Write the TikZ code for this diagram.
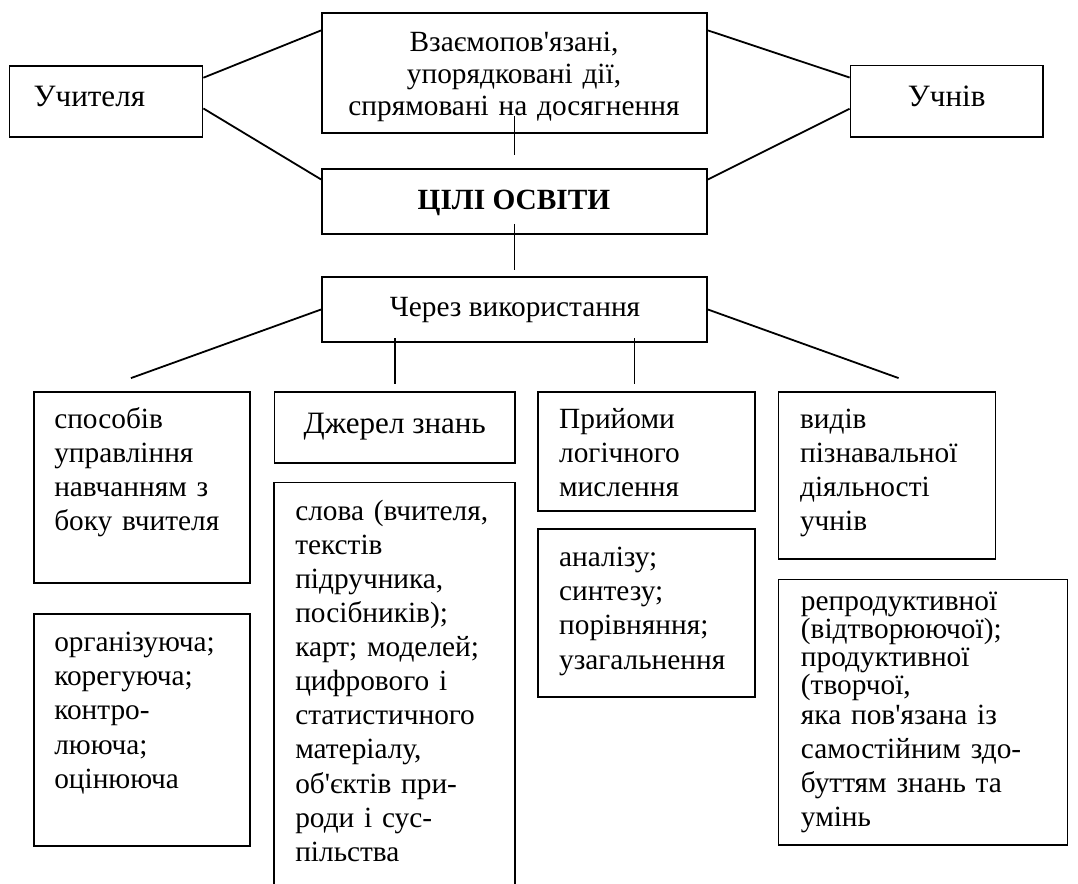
\documentclass[tikz,border=0pt]{standalone}
\usepackage{fontspec}
\setmainfont{Liberation Serif}[Ligatures=TeXOff]
\usetikzlibrary{fit,calc}

\tikzset{
	box/.style={draw, line width=1.35pt, inner sep=0pt},
	link/.style={line width=1.35pt},
	txt/.style={inner sep=0pt, align=left, text width=200pt, font=\fontsize{22}{25.6}\selectfont},
	bigtxt/.style={inner sep=0pt, font=\fontsize{23.3}{26}\selectfont},
}

\begin{document}
\begin{tikzpicture}[x=0.75pt,y=-0.75pt]
			\useasboundingbox (0,0) rectangle (1078,884);
			
			%Shape: Rectangle
			\node[box, fit={(9.5,65.7) (202.5,137.3)}] (uchytel) {};
			%Shape: Rectangle
			\node[box, fit={(322,13.3) (707,133.3)}] (vzaiem) {};
			%Shape: Rectangle
			\node[box, fit={(850.5,65.5) (1042.7,137.3)}] (uchni) {};
			%Shape: Rectangle
			\node[box, fit={(322,169) (707,234)}] (tsili) {};
			%Shape: Rectangle
			\node[box, fit={(322,277.3) (707,341.7)}] (cherez) {};
			
			%Shape: Rectangle
			\node[box, fit={(34,391.7) (250.3,583)}] (sposib) {};
			%Shape: Rectangle
			\node[box, fit={(34,614) (250.3,846)}] (orhaniz) {};
			%Shape: Rectangle
			\node[box, fit={(274.5,391.7) (514.8,463.3)}] (dzherel) {};
			%Shape: Rectangle, open at the bottom
			\node[inner sep=0pt, fit={(274.5,482.7) (514.8,884)}] (slova) {};
			\draw[link] (slova.south west) -- (slova.north west) -- (slova.north east) -- (slova.south east);
			%Shape: Rectangle
			\node[box, fit={(538.2,391.7) (755.2,511)}] (pryiomy) {};
			%Shape: Rectangle
			\node[box, fit={(538.2,529.3) (755.2,697.3)}] (analiz) {};
			%Shape: Rectangle
			\node[box, fit={(778.5,391.7) (995.4,559.3)}] (vydiv) {};
			%Shape: Rectangle
			\node[box, fit={(778.5,579.5) (1067.5,845)}] (reprod) {};
			
			%Straight Lines
			\draw[link] ($(uchytel.north east)!0.176!(uchytel.south east)$) -- ($(vzaiem.north west)!0.148!(vzaiem.south west)$);
			\draw[link] ($(uchytel.north east)!0.595!(uchytel.south east)$) -- ($(tsili.north west)!0.17!(tsili.south west)$);
			\draw[link] ($(vzaiem.north east)!0.148!(vzaiem.south east)$) -- ($(uchni.north west)!0.176!(uchni.south west)$);
			\draw[link] ($(tsili.north east)!0.17!(tsili.south east)$) -- ($(uchni.north west)!0.6!(uchni.south west)$);
			\draw[link] ($(vzaiem.south)+(0,-18)$) -- ($(tsili.north)+(0,-13.3)$);
			\draw[link] ($(tsili.south)+(0,-11)$) -- ($(cherez.north)+(0,-6.6)$);
			
			%Straight Lines
			\draw[link] (cherez.west) -- ($(sposib.north)+(-11.2,-12.7)$);
			\draw[link] ($(cherez.south -| dzherel.north)+(0,-4.4)$) -- ($(dzherel.north)+(0,-6.7)$);
			\draw[link] ($(cherez.south -| pryiomy.north)+(-12.3,-4.4)$) -- ($(pryiomy.north)+(-12.3,-6.7)$);
			\draw[link] (cherez.east) -- ($(vydiv.north)+(11.65,-12.7)$);
			
			% Text Node
			\node[bigtxt, anchor=base west] (uchytel-t) at (33.4,106.7) {Учителя};
			% Text Node
			\node[bigtxt, anchor=base] (uchni-t) at (946.7,106.7) {Учнів};
			% Text Node
			\node[txt, align=center, text width=380pt, anchor=base, font=\fontsize{22}{24}\selectfont] (vzaiem-t) at (514,51.7) {Взаємопов'язані,\\упорядковані дії,\\спрямовані на досягнення};
			% Text Node
			\node[txt, text width={}, anchor=base, font=\fontsize{22}{25.6}\selectfont\bfseries] (tsili-t) at (514,210) {ЦІЛІ ОСВІТИ};
			% Text Node
			\node[txt, text width={}, anchor=base] (cherez-t) at (515,316.7) {Через використання};
			% Text Node
			\node[bigtxt, anchor=base] (dzherel-t) at (394.7,433.3) {Джерел знань};
			
			% Text Node
			\node[txt, anchor=base west] (sposib-t) at (54,428.3) {способів\\управління\\навчанням з\\боку вчителя};
			% Text Node
			\node[txt, anchor=base west] (orhaniz-t) at (54,651.7) {організуюча;\\корегуюча;\\контро-\\лююча;\\оцінююча};
			% Text Node
			\node[txt, anchor=base west] (slova-t) at (295,520) {слова (вчителя,\\текстів\\підручника,\\посібників);\\карт; моделей;\\цифрового і\\статистичного\\матеріалу,\\об'єктів при-\\роди і сус-\\пільства};
			% Text Node
			\node[txt, anchor=base west] (pryiomy-t) at (558.9,428.3) {Прийоми\\логічного\\мислення};
			% Text Node
			\node[txt, anchor=base west] (analiz-t) at (558.9,566.7) {аналізу;\\синтезу;\\порівняння;\\узагальнення};
			% Text Node
			\node[txt, anchor=base west] (vydiv-t) at (799.8,428.3) {видів\\пізнавальної\\діяльності\\учнів};
			% Text Node
			\node[txt, anchor=base west] (reprod-t) at (800.7,610) {репродуктивної\\[-4.5pt](відтворюючої);\\[-4.5pt]продуктивної\\[-4.5pt](творчої,\\[-3pt]яка пов'язана із\\самостійним здо-\\буттям знань та\\умінь};
			
\end{tikzpicture}
\end{document}
